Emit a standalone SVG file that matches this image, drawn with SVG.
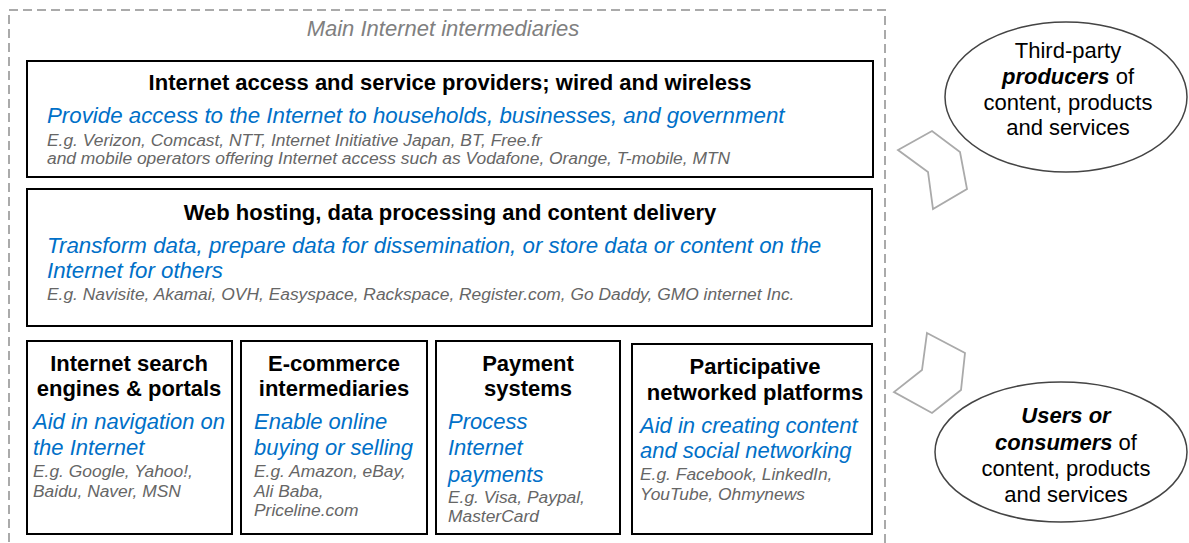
<svg xmlns="http://www.w3.org/2000/svg" width="1189" height="543" viewBox="0 0 1189 543">
<style>
text{font-family:"Liberation Sans",Arial,sans-serif}
.box{fill:#fff;stroke:#000;stroke-width:2}
.t{font-weight:bold;fill:#000;text-anchor:middle;font-size:22px}
.b{font-style:italic;fill:#0070c8;font-size:22px}
.bw{font-size:22.3px}
.g{font-style:italic;fill:#666;font-size:17.4px}
.ell{fill:#fff;stroke:#444;stroke-width:1.5}
.chev{fill:none;stroke:#aaa;stroke-width:1.8;stroke-linejoin:miter}
.e{font-size:22px;fill:#000;text-anchor:middle}
</style>
<rect width="1189" height="543" fill="#fff"/>
<g id="frame">
<rect x="9" y="10" width="876" height="545" fill="none" stroke="#aaa" stroke-width="2" stroke-dasharray="9 5"/>
<text x="443" y="36" font-size="22" font-style="italic" fill="#808080" text-anchor="middle">Main Internet intermediaries</text>
</g>
<g id="isp">
<rect class="box" x="27" y="61" width="846" height="116"/>
<text class="t" x="450" y="90">Internet access and service providers; wired and wireless</text>
<text class="b bw" x="47" y="123">Provide access to the Internet to households, businesses, and government</text>
<text class="g" x="47" y="146">E.g. Verizon, Comcast, NTT, Internet Initiative Japan, BT, Free.fr</text>
<text class="g" x="47" y="164">and mobile operators offering Internet access such as Vodafone, Orange, T-mobile, MTN</text>
</g>
<g id="hosting">
<rect class="box" x="27" y="189" width="845" height="137"/>
<text class="t" x="450" y="220">Web hosting, data processing and content delivery</text>
<text class="b bw" x="47" y="253">Transform data, prepare data for dissemination, or store data or content on the</text>
<text class="b bw" x="47" y="278">Internet for others</text>
<text class="g" x="47" y="300">E.g. Navisite, Akamai, OVH, Easyspace, Rackspace, Register.com, Go Daddy, GMO internet Inc.</text>
</g>
<g id="search">
<rect class="box" x="27" y="341" width="205" height="193"/>
<text class="t" x="129" y="371">Internet search</text>
<text class="t" x="129" y="396">engines &amp; portals</text>
<text class="b" x="33" y="429">Aid in navigation on</text>
<text class="b" x="33" y="455">the Internet</text>
<text class="g" x="33" y="477">E.g. Google, Yahoo!,</text>
<text class="g" x="33" y="497">Baidu, Naver, MSN</text>
</g>
<g id="ecommerce">
<rect class="box" x="241" y="341" width="186" height="193"/>
<text class="t" x="334" y="371">E-commerce</text>
<text class="t" x="334" y="396">intermediaries</text>
<text class="b" x="254" y="429">Enable online</text>
<text class="b" x="254" y="455">buying or selling</text>
<text class="g" x="254" y="477">E.g. Amazon, eBay,</text>
<text class="g" x="254" y="497">Ali Baba,</text>
<text class="g" x="254" y="516">Priceline.com</text>
</g>
<g id="payment">
<rect class="box" x="436" y="341" width="184" height="193"/>
<text class="t" x="528" y="371">Payment</text>
<text class="t" x="528" y="396">systems</text>
<text class="b" x="448" y="429">Process</text>
<text class="b" x="448" y="455">Internet</text>
<text class="b" x="448" y="482">payments</text>
<text class="g" x="448" y="503">E.g. Visa, Paypal,</text>
<text class="g" x="448" y="522">MasterCard</text>
</g>
<g id="participative">
<rect class="box" x="632" y="344" width="240" height="190"/>
<text class="t" x="755" y="374">Participative</text>
<text class="t" x="755" y="400">networked platforms</text>
<text class="b" x="640" y="433">Aid in creating content</text>
<text class="b" x="640" y="458">and social networking</text>
<text class="g" x="640" y="480">E.g. Facebook, LinkedIn,</text>
<text class="g" x="640" y="500">YouTube, Ohmynews</text>
</g>
<g id="producers">
<ellipse class="ell" cx="1066" cy="97" rx="121" ry="75"/>
<text class="e" x="1068" y="58">Third-party</text>
<text class="e" x="1068" y="84"><tspan font-weight="bold" font-style="italic">producers</tspan> of</text>
<text class="e" x="1068" y="110">content, products</text>
<text class="e" x="1068" y="135">and services</text>
</g>
<g id="users">
<ellipse class="ell" cx="1061" cy="452" rx="126" ry="70"/>
<text class="e" x="1066" y="423" font-weight="bold" font-style="italic">Users or</text>
<text class="e" x="1066" y="450"><tspan font-weight="bold" font-style="italic">consumers</tspan> of</text>
<text class="e" x="1066" y="476">content, products</text>
<text class="e" x="1066" y="502">and services</text>
</g>
<g id="connectors">
<polygon class="chev" points="898,150 932,131 960,152 967,189 933,209 928,172"/>
<polygon class="chev" points="927,333 965,353 961,390 932,413 894,392 922,370"/>
</g>
</svg>
